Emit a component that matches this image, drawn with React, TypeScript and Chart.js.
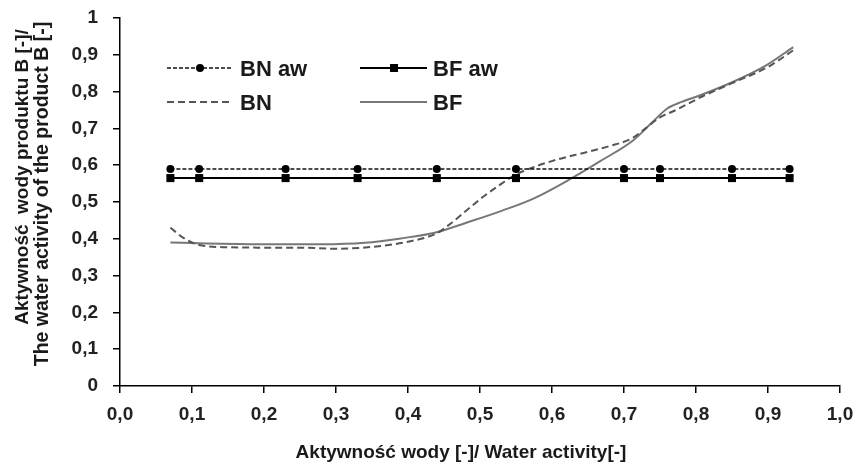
import React, { useEffect, useRef } from "react";
import { Chart, registerables } from "chart.js";

Chart.register(...registerables);

// ---- data ----
const awX = [0.07, 0.11, 0.23, 0.33, 0.44, 0.55, 0.70, 0.75, 0.85, 0.93];
const bnAwY = [0.59, 0.59, 0.59, 0.59, 0.59, 0.59, 0.59, 0.59, 0.59, 0.59];
const bfAwY = [0.565, 0.565, 0.565, 0.565, 0.565, 0.565, 0.565, 0.565, 0.565, 0.565];

const bnX = [0.07, 0.09, 0.11, 0.15, 0.20, 0.25, 0.30, 0.35, 0.40, 0.44, 0.455, 0.48, 0.505, 0.53, 0.55, 0.575, 0.61, 0.645, 0.68, 0.71, 0.73, 0.75, 0.77, 0.81, 0.85, 0.90, 0.935];
const bnY = [0.43, 0.40, 0.383, 0.377, 0.376, 0.376, 0.373, 0.378, 0.392, 0.415, 0.435, 0.475, 0.515, 0.55, 0.575, 0.595, 0.617, 0.634, 0.652, 0.672, 0.70, 0.73, 0.748, 0.788, 0.823, 0.867, 0.912];

const bfX = [0.07, 0.12, 0.20, 0.28, 0.34, 0.39, 0.44, 0.48, 0.53, 0.575, 0.625, 0.667, 0.713, 0.74, 0.76, 0.78, 0.806, 0.851, 0.898, 0.935];
const bfY = [0.39, 0.387, 0.385, 0.385, 0.389, 0.401, 0.418, 0.443, 0.476, 0.51, 0.562, 0.611, 0.668, 0.718, 0.754, 0.772, 0.79, 0.826, 0.872, 0.921];

const seriesLabels = ["BN aw", "BF aw", "BN", "BF"];
const xTitle = "Aktywność wody [-]/ Water activity[-]";
const yTitleLines = ["Aktywność  wody produktu B [-]/", "The water activity of the product B [-]"];

const FONT = '"Liberation Sans", Arial, sans-serif';

const pts = (xs: number[], ys: number[]) => xs.map((x, i) => ({ x, y: ys[i] }));

const fmtX = (v: number) => (Math.round(v * 10) / 10).toFixed(1).replace(".", ",");
const fmtY = (v: number) => String(Math.round(v * 10) / 10).replace(".", ",");

const overlayPlugin = {
  id: "overlay",
  afterDraw(chart: any) {
    const ctx = chart.ctx;
    const ds = chart.data.datasets;
    ctx.save();
    // axis titles
    ctx.fillStyle = "#1a1a1a";
    ctx.font = `bold 19px ${FONT}`;
    ctx.textAlign = "center";
    ctx.textBaseline = "middle";
    ctx.fillText(xTitle, 461, 453);
    ctx.save();
    ctx.translate(23, 177);
    ctx.rotate(-Math.PI / 2);
    ctx.fillText(yTitleLines[0], 0, 0);
    ctx.restore();
    ctx.save();
    ctx.translate(43, 194);
    ctx.rotate(-Math.PI / 2);
    ctx.font = `bold 19.5px ${FONT}`;
    ctx.fillText(yTitleLines[1], 0, 0);
    ctx.restore();

    // legend
    const layout = [
      { x0: 167, x1: 232, y: 68, ty: 70, tx: 240, mx: 200 },
      { x0: 360, x1: 427, y: 68, ty: 70, tx: 433, mx: 394 },
      { x0: 167, x1: 232, y: 102, ty: 104, tx: 240, mx: 0 },
      { x0: 360, x1: 427, y: 102, ty: 104, tx: 433, mx: 0 },
    ];
    layout.forEach((l, i) => {
      const d = ds[i];
      ctx.beginPath();
      ctx.strokeStyle = d.borderColor;
      ctx.lineWidth = d.borderWidth;
      ctx.setLineDash(d.borderDash || []);
      ctx.moveTo(l.x0, l.y);
      ctx.lineTo(l.x1, l.y);
      ctx.stroke();
      ctx.setLineDash([]);
      if (l.mx) {
        ctx.fillStyle = "#000";
        if (d.pointStyle === "rect") {
          ctx.fillRect(l.mx - 4, l.y - 4, 8, 8);
        } else {
          ctx.beginPath();
          ctx.arc(l.mx, l.y, 4, 0, Math.PI * 2);
          ctx.fill();
        }
      }
      ctx.fillStyle = "#1a1a1a";
      ctx.font = `bold 22px ${FONT}`;
      ctx.textAlign = "left";
      ctx.textBaseline = "middle";
      ctx.fillText(d.label, l.tx, l.ty);
    });
    ctx.restore();
  },
};

export default function App() {
  const ref = useRef<HTMLCanvasElement>(null);
  useEffect(() => {
    if (!ref.current) return;
    const chart = new Chart(ref.current, {
      type: "line",
      data: {
        datasets: [
          {
            label: seriesLabels[0],
            data: pts(awX, bnAwY),
            borderColor: "#111",
            borderWidth: 1.5,
            borderDash: [4, 2],
            pointStyle: "circle",
            pointRadius: 4,
            pointBackgroundColor: "#000",
            pointBorderColor: "#000",
            pointBorderWidth: 0,
            tension: 0,
          },
          {
            label: seriesLabels[1],
            data: pts(awX, bfAwY),
            borderColor: "#000",
            borderWidth: 2,
            pointStyle: "rect",
            pointRadius: 5.7,
            pointBackgroundColor: "#000",
            pointBorderColor: "#000",
            pointBorderWidth: 0,
            tension: 0,
          },
          {
            label: seriesLabels[2],
            data: pts(bnX, bnY),
            borderColor: "#555",
            borderWidth: 2,
            borderDash: [7, 4],
            pointRadius: 0,
            cubicInterpolationMode: "monotone",
          },
          {
            label: seriesLabels[3],
            data: pts(bfX, bfY),
            borderColor: "#777",
            borderWidth: 2,
            pointRadius: 0,
            cubicInterpolationMode: "monotone",
          },
        ],
      } as any,
      options: {
        responsive: false,
        animation: false,
        devicePixelRatio: 1,
        layout: { padding: { top: 18, right: 22, left: 0, bottom: 0 } },
        plugins: { legend: { display: false }, tooltip: { enabled: false } },
        scales: {
          x: {
            type: "linear",
            min: 0,
            max: 1,
            afterFit: (s: any) => {
              s.height = 79;
              s.paddingLeft = 0;
              s.paddingRight = 0;
            },
            ticks: {
              stepSize: 0.1,
              color: "#222",
              font: { family: FONT, size: 19, weight: "bold" },
              padding: 10,
              maxRotation: 0,
              callback: (v: any) => fmtX(Number(v)),
            },
            grid: { drawOnChartArea: false, tickLength: 7, color: "#000", lineWidth: 1.5 },
            border: { color: "#000", width: 1.5 },
          },
          y: {
            type: "linear",
            min: 0,
            max: 1,
            afterFit: (s: any) => {
              s.width = 120;
              s.paddingTop = 0;
              s.paddingBottom = 0;
            },
            ticks: {
              stepSize: 0.1,
              color: "#222",
              font: { family: FONT, size: 19, weight: "bold" },
              padding: 15,
              callback: (v: any) => fmtY(Number(v)),
            },
            grid: { drawOnChartArea: false, tickLength: 7, color: "#000", lineWidth: 1.5 },
            border: { color: "#000", width: 1.5 },
          },
        },
      } as any,
      plugins: [overlayPlugin],
    });
    return () => chart.destroy();
  }, []);
  return (
    <div style={{ position: "fixed", left: 0, top: 0, width: 862, height: 465, background: "#fff" }}>
      <canvas ref={ref} width={862} height={465} style={{ width: 862, height: 465 }} />
    </div>
  );
}
